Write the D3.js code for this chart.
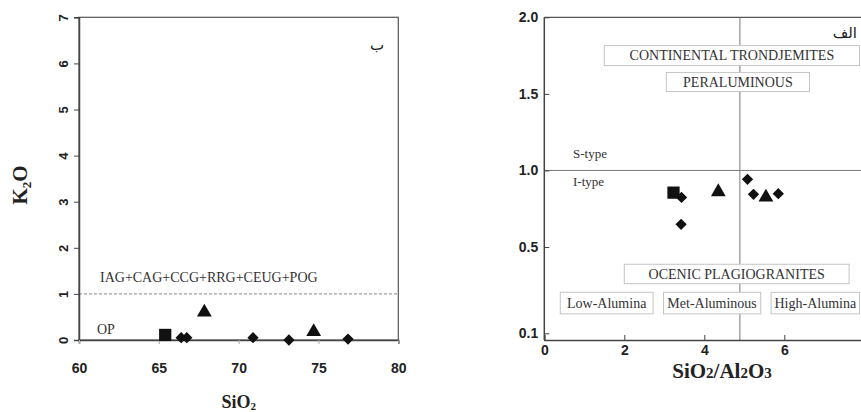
<!DOCTYPE html>
<html><head><meta charset="utf-8">
<script src="https://cdn.jsdelivr.net/npm/d3@7"></script>
<style>
html,body{margin:0;padding:0;background:#fff;}
svg{display:block;}
</style></head>
<body>
<svg id="chart" width="861" height="412"></svg>
<script>
// ---------- DATA ----------
// Left diagram: K2O vs SiO2
const leftXTicks = [60, 65, 70, 75, 80];
const leftYTicks = [0, 1, 2, 3, 4, 5, 6, 7];
const sio2Square = [65.4];
const k2oSquare = [0.11];
const sio2Triangle = [67.85, 74.7];
const k2oTriangle = [0.6, 0.18];
const sio2Diamond = [66.4, 66.75, 70.9, 73.15, 76.85];
const k2oDiamond = [0.05, 0.05, 0.05, 0.0, 0.02];
const leftBoundary = 1;

// Right diagram: ratio vs SiO2/Al2O3
const rightXTicks = [0, 2, 4, 6];
const rightYTicks = [0.1, 0.5, 1.0, 1.5, 2.0];
const ratioSquare = [3.23];
const ySquare = [0.855];
const ratioTriangle = [4.35, 5.54];
const yTriangle = [0.86, 0.825];
const ratioDiamond = [3.43, 3.42, 5.08, 5.23, 5.85];
const yDiamond = [0.824, 0.648, 0.942, 0.844, 0.848];
const rightVLine = 4.89;
const rightHLine = 1.0;
const fieldLabels = ["CONTINENTAL TRONDJEMITES", "PERALUMINOUS", "OCENIC PLAGIOGRANITES", "Low-Alumina", "Met-Aluminous", "High-Alumina"];
const fieldX = [1.5, 3.05, 2.0, 0.4, 2.98, 5.67];      // box left (data x)
const fieldX2 = [7.88, 6.63, 7.62, 2.72, 5.41, 7.88];  // box right (data x)
const fieldYTop = [1.815, 1.64, 0.42, 0.29, 0.29, 0.29];
const fieldYBot = [1.685, 1.515, 0.33, 0.19, 0.19, 0.19];

// ---------- DRAW ----------
const svg = d3.select("#chart");
svg.append("rect").attr("width", 861).attr("height", 412).attr("fill", "#fff");

const sansB = "'Liberation Sans', Arial, sans-serif";
const serif = "'Liberation Serif', 'Times New Roman', serif";

const symSquare = d3.symbol().type(d3.symbolSquare).size(150)();
const symDiamond = d3.symbol().type(d3.symbolSquare).size(64)();
const symTriangle = d3.symbol().type(d3.symbolTriangle).size(95)();

// ===== LEFT =====
const xL = d3.scaleLinear().domain([60, 80]).range([79, 398.3]);
const yL = d3.scaleLinear().domain([0, 7]).range([340, 17.3]);
const gL = svg.append("g");

// frame
gL.append("rect").attr("x", xL(60)).attr("y", yL(7))
  .attr("width", xL(80) - xL(60)).attr("height", yL(0) - yL(7))
  .attr("fill", "none").attr("stroke", "#555").attr("stroke-width", 1.2);

// boundary dashed
gL.append("line").attr("x1", xL(60)).attr("x2", xL(80))
  .attr("y1", yL(leftBoundary)).attr("y2", yL(leftBoundary))
  .attr("stroke", "#888").attr("stroke-width", 1).attr("stroke-dasharray", "3,2");

const axYL = gL.append("g").attr("transform", `translate(${xL(60)},0)`)
  .call(d3.axisLeft(yL).tickValues(leftYTicks).tickSize(5).tickFormat(d3.format("d")));
axYL.selectAll("text").attr("transform", "rotate(-90)").attr("x", 0).attr("y", -16)
  .attr("dy", "0.35em").attr("text-anchor", "middle")
  .attr("font-family", sansB).attr("font-weight", "bold").attr("font-size", 13).attr("fill", "#222");

const axXL = gL.append("g").attr("transform", `translate(0,${yL(0)})`)
  .call(d3.axisBottom(xL).tickValues(leftXTicks).tickSize(4).tickPadding(19));
axXL.selectAll("text").attr("font-family", sansB).attr("font-weight", "bold").attr("font-size", 14).attr("fill", "#222");
axXL.selectAll(".tick line").attr("stroke", "#aaa");
[axYL, axXL].forEach(a => { a.select(".domain").attr("stroke", "#444").attr("stroke-width", 1.5); });
axYL.selectAll(".tick line").attr("stroke", "#444");

gL.append("text").attr("x", 100).attr("y", 282).attr("font-family", serif).attr("font-size", 14)
  .attr("fill", "#333").text("IAG+CAG+CCG+RRG+CEUG+POG");
gL.append("text").attr("x", 97).attr("y", 334).attr("font-family", serif).attr("font-size", 14)
  .attr("fill", "#333").text("OP");
gL.append("text").attr("x", 377).attr("y", 50).attr("text-anchor", "middle").attr("font-family", "'DejaVu Sans', sans-serif")
  .attr("font-size", 15).attr("fill", "#222").text("ب");

// axis titles
const tSi = gL.append("text").attr("x", (xL(60) + xL(80)) / 2).attr("y", 408).attr("text-anchor", "middle")
  .attr("font-family", serif).attr("font-weight", "bold").attr("font-size", 18).attr("fill", "#222");
tSi.append("tspan").text("SiO");
tSi.append("tspan").attr("font-size", 11).attr("dy", 2).text("2");
const tK = gL.append("text").attr("transform", "translate(27,185) rotate(-90)").attr("text-anchor", "middle")
  .attr("font-family", serif).attr("font-weight", "bold").attr("font-size", 21).attr("fill", "#222");
tK.append("tspan").text("K");
tK.append("tspan").attr("font-size", 13).attr("dy", 4).text("2");
tK.append("tspan").attr("dy", -4).text("O");

// points
gL.selectAll(".lsq").data(sio2Square.map((v, i) => [v, k2oSquare[i]])).join("path")
  .attr("d", symSquare).attr("fill", "#111").attr("transform", d => `translate(${xL(d[0])},${yL(d[1])})`);
gL.selectAll(".ldi").data(sio2Diamond.map((v, i) => [v, k2oDiamond[i]])).join("path")
  .attr("d", symDiamond).attr("fill", "#111").attr("transform", d => `translate(${xL(d[0])},${yL(d[1])}) rotate(45)`);
gL.selectAll(".ltr").data(sio2Triangle.map((v, i) => [v, k2oTriangle[i]])).join("path")
  .attr("d", symTriangle).attr("fill", "#111").attr("transform", d => `translate(${xL(d[0])},${yL(d[1])})`);

// ===== RIGHT =====
const xR = d3.scaleLinear().domain([0, 8]).range([544.3, 864.3]);
const yR = d3.scaleLinear().domain([0.1, 0.5, 2.0]).range([333.3, 247, 17.3]);
const gR = svg.append("g");
const rBottom = 340;

gR.append("line").attr("x1", xR(0)).attr("x2", 870).attr("y1", yR(2)).attr("y2", yR(2))
  .attr("stroke", "#555").attr("stroke-width", 1.2);
gR.append("line").attr("x1", xR(rightVLine)).attr("x2", xR(rightVLine)).attr("y1", yR(2)).attr("y2", rBottom)
  .attr("stroke", "#777").attr("stroke-width", 1);
gR.append("line").attr("x1", xR(0)).attr("x2", 870).attr("y1", yR(rightHLine)).attr("y2", yR(rightHLine))
  .attr("stroke", "#777").attr("stroke-width", 1);

const axYR = gR.append("g").attr("transform", `translate(${xR(0)},0)`)
  .call(d3.axisLeft(yR).tickValues(rightYTicks).tickSize(-5).tickPadding(6).tickFormat(d3.format(".1f")));
axYR.select(".domain").remove();
gR.append("line").attr("x1", xR(0)).attr("x2", xR(0)).attr("y1", yR(2)).attr("y2", rBottom)
  .attr("stroke", "#444").attr("stroke-width", 1.5);
axYR.selectAll("text").attr("font-family", sansB).attr("font-weight", "bold").attr("font-size", 14).attr("fill", "#222");
axYR.selectAll(".tick line").attr("stroke", "#444");

const axXR = gR.append("g").attr("transform", `translate(0,${rBottom})`)
  .call(d3.axisBottom(xR).tickValues(rightXTicks).tickSize(-5).tickPadding(5).tickFormat(d3.format("d")));
axXR.select(".domain").attr("stroke", "#444").attr("stroke-width", 1.5);
axXR.selectAll(".tick line").attr("stroke", "#444");
axXR.selectAll("text").attr("font-family", sansB).attr("font-weight", "bold").attr("font-size", 14).attr("fill", "#222");

// field boxes
fieldLabels.forEach((lab, i) => {
  const x1 = xR(fieldX[i]), x2 = xR(fieldX2[i]);
  const y1 = yR(fieldYTop[i]), y2 = yR(fieldYBot[i]);
  gR.append("rect").attr("x", x1).attr("y", y1).attr("width", x2 - x1).attr("height", y2 - y1)
    .attr("fill", "#fff").attr("stroke", "#c4c4c4").attr("stroke-width", 1);
  gR.append("text").attr("x", (x1 + x2) / 2).attr("y", (y1 + y2) / 2).attr("dy", "0.35em")
    .attr("text-anchor", "middle").attr("font-family", serif).attr("font-size", 14).attr("fill", "#333").text(lab);
});

gR.append("text").attr("x", 573).attr("y", 153).attr("dy", "0.35em").attr("font-family", serif)
  .attr("font-size", 13).attr("fill", "#333").text("S-type");
gR.append("text").attr("x", 573).attr("y", 181).attr("dy", "0.35em").attr("font-family", serif)
  .attr("font-size", 13).attr("fill", "#333").text("I-type");
gR.append("text").attr("x", 857).attr("y", 38).attr("text-anchor", "end").attr("font-family", "'DejaVu Sans', sans-serif")
  .attr("font-size", 15).attr("fill", "#222").text("الف");

const tR = gR.append("text").attr("x", 722).attr("y", 378).attr("text-anchor", "middle")
  .attr("font-family", serif).attr("font-weight", "bold").attr("font-size", 21).attr("fill", "#222");
tR.append("tspan").text("SiO");
tR.append("tspan").attr("font-size", 15).text("2");
tR.append("tspan").text("/Al");
tR.append("tspan").attr("font-size", 15).text("2");
tR.append("tspan").text("O");
tR.append("tspan").attr("font-size", 15).text("3");

gR.selectAll(".rsq").data(ratioSquare.map((v, i) => [v, ySquare[i]])).join("path")
  .attr("d", symSquare).attr("fill", "#111").attr("transform", d => `translate(${xR(d[0])},${yR(d[1])})`);
gR.selectAll(".rdi").data(ratioDiamond.map((v, i) => [v, yDiamond[i]])).join("path")
  .attr("d", symDiamond).attr("fill", "#111").attr("transform", d => `translate(${xR(d[0])},${yR(d[1])}) rotate(45)`);
gR.selectAll(".rtr").data(ratioTriangle.map((v, i) => [v, yTriangle[i]])).join("path")
  .attr("d", symTriangle).attr("fill", "#111").attr("transform", d => `translate(${xR(d[0])},${yR(d[1])})`);
</script>
</body></html>
